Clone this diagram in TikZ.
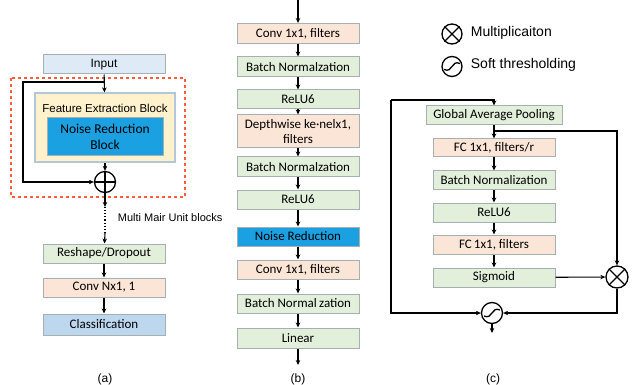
\documentclass[tikz,border=0pt]{standalone}
\usepackage{fontspec}
\setmainfont{Carlito}
\newfontfamily\arial{Liberation Sans}
\usetikzlibrary{arrows.meta}

\definecolor{boxgreen}{HTML}{E2EFDA}
\definecolor{boxpink}{HTML}{FBE5D6}
\definecolor{inblue}{HTML}{DEEBF7}
\definecolor{clsblue}{HTML}{BDD7EE}
\definecolor{nrblue}{HTML}{1BA1E2}
\definecolor{featyellow}{HTML}{FFF2CC}
\definecolor{boxline}{HTML}{A6B0B0}
\definecolor{featline}{HTML}{B4C7D8}
\definecolor{dashred}{HTML}{FF5C39}

\tikzset{
  layer/.style={draw=boxline, line width=1pt, minimum width=122pt, minimum height=19pt,
    inner sep=0pt, font=\fontsize{13}{14}\selectfont, align=center},
  greenbox/.style={layer, fill=boxgreen},
  pinkbox/.style={layer, fill=boxpink},
  op/.style={circle, draw, line width=1.3pt, minimum size=21pt, inner sep=0pt, fill=white},
  note/.style={font=\arial\fontsize{12}{14}\selectfont},
}

\begin{document}
\begin{tikzpicture}[x=1pt, y=-1pt, line width=1.1pt, >={Stealth[length=5pt,width=4.5pt]}]
\useasboundingbox[fill=white] (0,0) rectangle (632,385);

% (a)
\draw[dashred, dashed, line width=1.2pt] (11,78) rectangle (185,197);
\node (input) at (104,64.5) [layer, fill=inblue, font=\arial\fontsize{12}{14}\selectfont] {Input};
\node (feat) at (105,127.5) [draw=featline, line width=1.2pt, fill=featyellow, minimum width=140pt, minimum height=69pt] {};
\node (feattext) at (105,108) [font=\arial\fontsize{11.5}{13}\selectfont] {Feature Extraction Block};
\node (nrblock) at (105,137) [layer, fill=nrblue, minimum width=116pt, minimum height=38pt, font=\fontsize{13.5}{16}\selectfont] {Noise Reduction\\Block};
\node (add) at (105,182) [op] {};
\draw[line width=1.3pt] (add.north) -- (add.south);
\draw[line width=1.3pt] (add.west) -- (add.east);
\coordinate (split) at (105,82);
\coordinate (sk1) at (23,82);
\coordinate (sk2) at (23,182);
\coordinate (m1) at (105,207);
\coordinate (m2) at (105,233);
\node (reshape) at (104,253.5) [greenbox] {Reshape/Dropout};
\node (convn) at (104,287.5) [pinkbox] {Conv Nx1, 1};
\node (cls) at (104,324.5) [layer, fill=clsblue, minimum height=21pt] {Classification};
\node (multi) at (114,218) [note, anchor=west, font=\arial\fontsize{11}{13}\selectfont] {Multi Mair Unit blocks};
\node (capa) at (105,379) [note] {(a)};

\draw[->] (input) -- (feat);
\draw[->] (split) -- (sk1) -- (sk2) -- (add);
\draw[->] (feat) -- (add);
\draw[->] (add) -- (m1);
\draw[dotted] (m1) -- (m2);
\draw[->] (m2) -- (reshape);
\draw[->] (reshape) -- (convn);
\draw[->] (convn) -- (cls);

% (b)
\coordinate (btop) at (298,0);
\node (conv1) at (298,33.5) [pinkbox, minimum height=20pt] {Conv 1x1, filters};
\node (bn1) at (298,67) [greenbox, minimum height=20pt] {Batch Normalzation};
\node (relu1) at (298,99.5) [greenbox] {ReLU6};
\node (dw) at (298,131.5) [pinkbox, minimum height=33pt, font=\fontsize{13}{14.5}\selectfont] {Depthwise ke\textperiodcentered nelx1,\\filters};
\node (bn2) at (298,167) [greenbox, minimum height=20pt] {Batch Normalzation};
\node (relu2) at (298,199.5) [greenbox] {ReLU6};
\node (nr) at (298,236.5) [layer, fill=nrblue] {Noise Reduction};
\node (conv2) at (298,269.5) [pinkbox] {Conv 1x1, filters};
\node (bn3) at (298,303.5) [greenbox] {Batch Normal\,zation};
\node (lin) at (298,338) [greenbox, minimum height=20pt] {Linear};
\coordinate (bbot) at (298,365);
\node (capb) at (298,379) [note] {(b)};

\draw[->] (btop) -- (conv1);
\draw[->] (conv1) -- (bn1);
\draw[->] (bn1) -- (relu1);
\draw[->] (relu1) -- (dw);
\draw[->] (dw) -- (bn2);
\draw[->] (bn2) -- (relu2);
\draw[->] (relu2) -- (nr);
\draw[->] (nr) -- (conv2);
\draw[->] (conv2) -- (bn3);
\draw[->] (bn3) -- (lin);
\draw[->] (lin) -- (bbot);

% (c)
\node (legmul) at (452,34) [op, minimum size=20pt] {};
\draw[line width=1.3pt] (legmul.north west) -- (legmul.south east);
\draw[line width=1.3pt] (legmul.north east) -- (legmul.south west);
\node (legmultext) at (467,33) [anchor=west, font=\arial\fontsize{14}{16}\selectfont] {Multiplicaiton};
\node (legsoft) at (452,66.5) [op, minimum size=20pt] {};
\draw[shift={(legsoft)}, line width=1.3pt] (-8pt,-3pt) .. controls (1pt,-7pt) and (-1pt,7pt) .. (8pt,3pt);
\node (legsofttext) at (467,65) [anchor=west, font=\arial\fontsize{14}{16}\selectfont] {Soft thresholding};

\node (gap) at (494,115.5) [greenbox, minimum width=136pt] {Global Average Pooling};
\node (fc1) at (494,148) [pinkbox, minimum height=18pt] {FC 1x1, filters/r};
\node (bnc) at (494,180) [greenbox, minimum height=18pt] {Batch Normalization};
\node (reluc) at (494,212.5) [greenbox] {ReLU6};
\node (fc2) at (494,244.5) [pinkbox] {FC\,1x1, filters};
\node (sig) at (494,277.5) [greenbox] {Sigmoid};
\node (mul) at (617,277) [op, minimum size=22pt] {};
\draw[line width=1.3pt] (mul.north west) -- (mul.south east);
\draw[line width=1.3pt] (mul.north east) -- (mul.south west);
\node (soft) at (492,313) [op] {};
\draw[shift={(soft)}, line width=1.3pt] (-8pt,-3pt) .. controls (1pt,-7pt) and (-1pt,7pt) .. (8pt,3pt);
\coordinate (ctl) at (391,100);
\coordinate (ctop) at (494,100);
\coordinate (cbl) at (391,313);
\coordinate (br1) at (494,131);
\coordinate (br2) at (617,131);
\coordinate (mulbot) at (617,313);
\coordinate (cbot) at (492,333);
\node (capc) at (493,379) [note] {(c)};

\draw[->] (ctl) -- (ctop) -- (gap);
\draw[->] (ctl) -- (cbl) -- (soft);
\draw[->] (gap) -- (fc1);
\draw[->] (br1) -- (br2) -- (mul);
\draw[->] (fc1) -- (bnc);
\draw[->] (bnc) -- (reluc);
\draw[->] (reluc) -- (fc2);
\draw[->] (fc2) -- (sig);
\draw[->] (sig) -- (mul);
\draw[->] (mul) -- (mulbot) -- (soft);
\draw[->] (soft) -- (cbot);
\end{tikzpicture}
\end{document}
